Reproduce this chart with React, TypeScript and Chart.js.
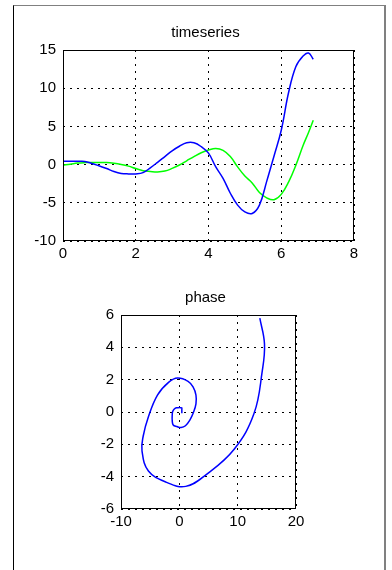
import React, { useEffect, useRef } from "react";
import { Chart, registerables } from "chart.js";

Chart.register(...registerables);

// time samples
const T = [0, 0.2, 0.4, 0.6, 0.8, 1.0, 1.2, 1.4, 1.6, 1.8, 2.0, 2.2, 2.4, 2.6, 2.8, 3.0, 3.2, 3.4, 3.6, 3.8, 4.0, 4.2, 4.4, 4.6, 4.8, 5.0, 5.2, 5.4, 5.6, 5.8, 6.0, 6.2, 6.4, 6.6, 6.75, 6.88];
// blue series (x)
const X_SERIES = [0.43, 0.43, 0.43, 0.42, 0.15, -0.18, -0.52, -0.9, -1.15, -1.22, -1.22, -1.05, -0.42, 0.3, 1.05, 1.8, 2.4, 2.85, 2.85, 2.35, 1.5, -0.3, -1.8, -3.75, -5.3, -6.2, -6.4, -5.3, -2.2, 1.1, 4.5, 9.4, 12.8, 14.2, 14.6, 13.8];
// green series (y)
const Y_SERIES = [-0.08, 0.05, 0.2, 0.26, 0.27, 0.27, 0.26, 0.17, 0.02, -0.2, -0.52, -0.8, -0.9, -0.96, -0.85, -0.5, -0.05, 0.5, 1.05, 1.55, 1.9, 2.1, 1.85, 1.05, -0.3, -1.5, -2.4, -3.65, -4.35, -4.6, -3.9, -2.3, -0.1, 2.5, 4.2, 5.8];

const TOP_X_TICKS = [0, 2, 4, 6, 8];
const TOP_Y_TICKS = [-10, -5, 0, 5, 10, 15];
const PHASE_X_TICKS = [-10, 0, 10, 20];
const PHASE_Y_TICKS = [-6, -4, -2, 0, 2, 4, 6];

const FONT = "'Liberation Sans', Arial, sans-serif";

const boxPlugin = {
  id: "boxAndTitle",
  afterDraw(chart: any) {
    const { ctx, chartArea } = chart;
    const title = chart.options.plugins.boxTitle?.text || "";
    ctx.save();
    ctx.strokeStyle = "#000";
    ctx.lineWidth = 1;
    ctx.setLineDash([]);
    ctx.strokeRect(
      Math.round(chartArea.left) + 0.5,
      Math.round(chartArea.top) + 0.5,
      Math.round(chartArea.right - chartArea.left) - 1,
      Math.round(chartArea.bottom - chartArea.top) - 1
    );
    ctx.fillStyle = "#000";
    ctx.font = `15px ${FONT}`;
    ctx.textAlign = "center";
    ctx.textBaseline = "alphabetic";
    ctx.fillText(title, (chartArea.left + chartArea.right) / 2 - 3, chartArea.top - 13);
    ctx.restore();
  },
};

function makeAxis(ticksArr: number[], isY: boolean, size: number) {
  return {
    type: "linear",
    min: ticksArr[0],
    max: ticksArr[ticksArr.length - 1],
    afterBuildTicks: (scale: any) => {
      scale.ticks = ticksArr.map((v) => ({ value: v }));
    },
    afterFit: (scale: any) => {
      if (isY) scale.width = size;
      else scale.height = size;
    },
    grid: { color: "#000", lineWidth: 1, drawTicks: false },
    border: { display: false, dash: [2, 5] },
    ticks: {
      color: "#000",
      padding: isY ? 7 : 4,
      font: { family: FONT, size: 15 },
      maxRotation: 0,
      autoSkip: false,
    },
  };
}

function ChartCanvas({ config, width, height, top }: any) {
  const ref = useRef<HTMLCanvasElement | null>(null);
  useEffect(() => {
    const chart = new Chart(ref.current as HTMLCanvasElement, config);
    return () => chart.destroy();
  }, []);
  return (
    <canvas
      ref={ref}
      width={width}
      height={height}
      style={{ position: "absolute", left: 0, top, width, height }}
    />
  );
}

export default function App() {
  const tsBlue = T.map((t, i) => ({ x: t, y: X_SERIES[i] }));
  const tsGreen = T.map((t, i) => ({ x: t, y: Y_SERIES[i] }));
  const phase = T.map((_, i) => ({ x: X_SERIES[i], y: Y_SERIES[i] }));

  const common = {
    responsive: false,
    animation: false,
    devicePixelRatio: 1,
    events: [],
  };

  const topConfig: any = {
    type: "scatter",
    data: {
      datasets: [
        { data: tsBlue, showLine: true, borderColor: "#0000ff", borderWidth: 1.5, pointRadius: 0, tension: 0.4 },
        { data: tsGreen, showLine: true, borderColor: "#00ff00", borderWidth: 1.5, pointRadius: 0, tension: 0.4 },
      ],
    },
    options: {
      ...common,
      layout: { padding: { left: 0, right: 38, top: 50, bottom: 0 } },
      plugins: { legend: { display: false }, tooltip: { enabled: false }, title: { display: false }, boxTitle: { text: "timeseries" } },
      scales: {
        x: makeAxis(TOP_X_TICKS, false, 39),
        y: makeAxis(TOP_Y_TICKS, true, 63),
      },
    },
    plugins: [boxPlugin],
  };

  const phaseConfig: any = {
    type: "scatter",
    data: {
      datasets: [
        { data: phase, showLine: true, borderColor: "#0000ff", borderWidth: 1.5, pointRadius: 0, tension: 0.4 },
      ],
    },
    options: {
      ...common,
      layout: { padding: { left: 0, right: 96, top: 35, bottom: 0 } },
      plugins: { legend: { display: false }, tooltip: { enabled: false }, title: { display: false }, boxTitle: { text: "phase" } },
      scales: {
        x: makeAxis(PHASE_X_TICKS, false, 61),
        y: makeAxis(PHASE_Y_TICKS, true, 121),
      },
    },
    plugins: [boxPlugin],
  };

  return (
    <div style={{ position: "absolute", left: 0, top: 0, width: 392, height: 570, overflow: "hidden", background: "#fff" }}>
      <div
        style={{
          position: "absolute",
          left: 13,
          top: 5,
          width: 373,
          height: 565,
          boxSizing: "border-box",
          borderLeft: "1px solid #000",
          borderTop: "1px solid #808080",
          borderRight: "2px solid #808080",
        }}
      />
      <ChartCanvas config={topConfig} width={392} height={280} top={0} />
      <ChartCanvas config={phaseConfig} width={392} height={290} top={280} />
    </div>
  );
}
